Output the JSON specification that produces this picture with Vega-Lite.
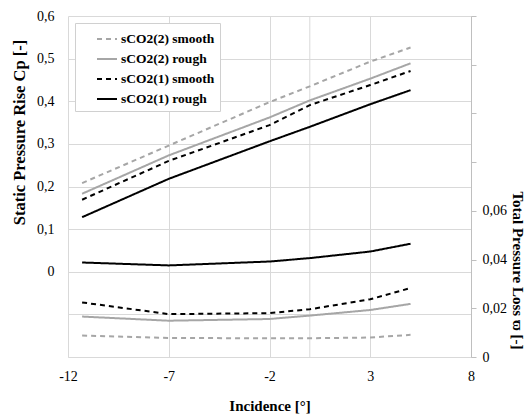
{
  "$schema": "https://vega.github.io/schema/vega-lite/v6.json",
  "width": 403,
  "height": 341,
  "autosize": {"type": "none"},
  "padding": {"left": 68, "top": 16, "right": 58, "bottom": 61},
  "background": "white",
  "config": {
    "view": {"stroke": null},
    "font": "Liberation Serif",
    "axis": {"labelFont": "Liberation Serif", "titleFont": "Liberation Serif", "labelFontSize": 14, "titleFontSize": 15, "titleFontWeight": "bold", "labelColor": "#000000", "titleColor": "#000000", "gridColor": "#d9d9d9", "domainColor": "#d9d9d9", "tickColor": "#bfbfbf"},
    "legend": {"labelFont": "Liberation Serif", "labelFontSize": 13.5, "labelFontWeight": "bold", "labelColor": "#000000"}
  },
  "data": {
    "values": [
      {"series": "sCO2(2) smooth", "inc": -11.3, "cp": 0.208, "loss": 0.0088},
      {"series": "sCO2(2) smooth", "inc": -7, "cp": 0.296, "loss": 0.0078},
      {"series": "sCO2(2) smooth", "inc": -2, "cp": 0.398, "loss": 0.0077},
      {"series": "sCO2(2) smooth", "inc": 0, "cp": 0.435, "loss": 0.0077},
      {"series": "sCO2(2) smooth", "inc": 3, "cp": 0.493, "loss": 0.0080},
      {"series": "sCO2(2) smooth", "inc": 5, "cp": 0.526, "loss": 0.0091},
      {"series": "sCO2(2) rough", "inc": -11.3, "cp": 0.183, "loss": 0.0166},
      {"series": "sCO2(2) rough", "inc": -7, "cp": 0.273, "loss": 0.0149},
      {"series": "sCO2(2) rough", "inc": -2, "cp": 0.362, "loss": 0.0156},
      {"series": "sCO2(2) rough", "inc": 0, "cp": 0.402, "loss": 0.0170},
      {"series": "sCO2(2) rough", "inc": 3, "cp": 0.453, "loss": 0.0193},
      {"series": "sCO2(2) rough", "inc": 5, "cp": 0.489, "loss": 0.0218},
      {"series": "sCO2(1) smooth", "inc": -11.3, "cp": 0.169, "loss": 0.0224},
      {"series": "sCO2(1) smooth", "inc": -7, "cp": 0.260, "loss": 0.0176},
      {"series": "sCO2(1) smooth", "inc": -2, "cp": 0.344, "loss": 0.0180},
      {"series": "sCO2(1) smooth", "inc": 0, "cp": 0.391, "loss": 0.0196},
      {"series": "sCO2(1) smooth", "inc": 3, "cp": 0.438, "loss": 0.0237},
      {"series": "sCO2(1) smooth", "inc": 5, "cp": 0.471, "loss": 0.0283},
      {"series": "sCO2(1) rough", "inc": -11.3, "cp": 0.128, "loss": 0.0388},
      {"series": "sCO2(1) rough", "inc": -7, "cp": 0.218, "loss": 0.0376},
      {"series": "sCO2(1) rough", "inc": -2, "cp": 0.306, "loss": 0.0392},
      {"series": "sCO2(1) rough", "inc": 0, "cp": 0.340, "loss": 0.0406},
      {"series": "sCO2(1) rough", "inc": 3, "cp": 0.393, "loss": 0.0433},
      {"series": "sCO2(1) rough", "inc": 5, "cp": 0.426, "loss": 0.0465}
    ]
  },
  "layer": [
    {
      "data": {"values": [{"inc": 0}]},
      "mark": {"type": "rule", "color": "#d9d9d9", "strokeWidth": 1},
      "encoding": {"x": {"field": "inc", "type": "quantitative", "scale": {"domain": [-12, 8], "nice": false}}}
    },
    {
      "mark": {"type": "line", "strokeWidth": 2},
      "encoding": {
        "x": {"field": "inc", "type": "quantitative", "scale": {"domain": [-12, 8], "nice": false},
              "axis": {"title": "Incidence [°]", "values": [-12, -7, -2, 3, 8], "grid": true, "ticks": false, "labelPadding": 12, "titlePadding": 15, "labelFlush": false,
                       "labelExpr": "replace(datum.label, '−', '-')"}},
        "y": {"field": "cp", "type": "quantitative", "scale": {"domain": [-0.2, 0.6], "nice": false, "zero": false},
              "axis": {"orient": "left", "title": "Static Pressure Rise Cp [-]", "titleFontSize": 16.5, "titleY": 116, "values": [-0.2, -0.1, 0, 0.1, 0.2, 0.3, 0.4, 0.5, 0.6], "grid": true, "ticks": false, "domain": false, "labelPadding": 14, "titlePadding": 9,
                       "labelExpr": "datum.value < -0.001 ? '' : (abs(datum.value) < 0.001 ? '0' : replace(format(datum.value, '.1f'), '.', ','))"}},
        "color": {"field": "series", "type": "nominal",
                  "scale": {"domain": ["sCO2(2) smooth", "sCO2(2) rough", "sCO2(1) smooth", "sCO2(1) rough"], "range": ["#a6a6a6", "#a6a6a6", "#000000", "#000000"]},
                  "legend": {"title": null, "orient": "none", "legendX": 7, "legendY": 7, "symbolType": "stroke", "symbolSize": 400, "symbolStrokeWidth": 2, "symbolOffset": 16, "rowPadding": 2, "padding": 5, "labelOffset": 3, "fillColor": "white", "strokeColor": "#d0d0d0"}},
        "strokeDash": {"field": "series", "type": "nominal",
                  "scale": {"domain": ["sCO2(2) smooth", "sCO2(2) rough", "sCO2(1) smooth", "sCO2(1) rough"], "range": [[5, 4], [1, 0], [5, 4], [1, 0]]},
                  "legend": {"title": null, "orient": "none", "legendX": 7, "legendY": 7, "symbolType": "stroke", "symbolSize": 400, "symbolStrokeWidth": 2, "symbolOffset": 16, "rowPadding": 2, "padding": 5, "labelOffset": 3, "fillColor": "white", "strokeColor": "#d0d0d0"}}
      }
    },
    {
      "mark": {"type": "line", "strokeWidth": 2},
      "encoding": {
        "x": {"field": "inc", "type": "quantitative", "scale": {"domain": [-12, 8], "nice": false}},
        "y": {"field": "loss", "type": "quantitative", "scale": {"domain": [0, 0.14], "nice": false},
              "axis": {"orient": "right", "title": "Total Pressure Loss ϖ [-]", "titleY": 254, "values": [0, 0.02, 0.04, 0.06, 0.08, 0.1, 0.12, 0.14], "grid": false, "ticks": true, "tickSize": 5, "domain": true, "domainColor": "#bfbfbf", "labelPadding": 6, "titlePadding": 3,
                       "labelExpr": "datum.value > 0.065 ? '' : (datum.value < 0.001 ? '0' : replace(format(datum.value, '.2f'), '.', ','))"}},
        "color": {"field": "series", "type": "nominal"},
        "strokeDash": {"field": "series", "type": "nominal"}
      }
    }
  ],
  "resolve": {"scale": {"y": "independent"}, "axis": {"y": "independent"}}
}
